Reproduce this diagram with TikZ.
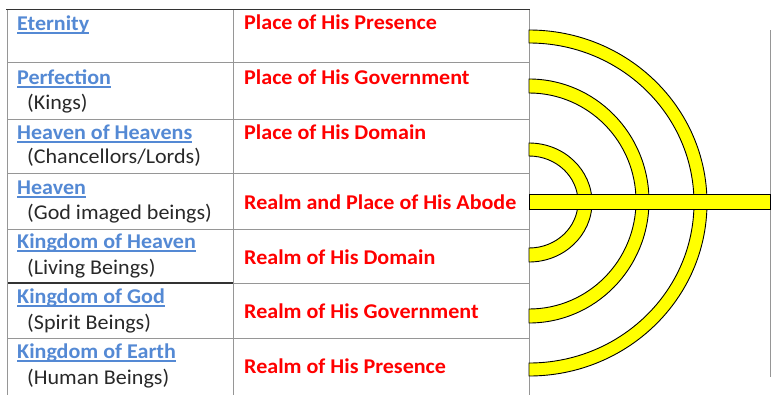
\documentclass[tikz,border=0pt]{standalone}
\usepackage{fontspec}
\setmainfont[FakeStretch=1.05]{Carlito}
\definecolor{linkblue}{RGB}{84,137,212}
\definecolor{realmred}{RGB}{255,0,0}
\definecolor{bodytext}{RGB}{40,40,40}
\definecolor{gridgray}{RGB}{150,150,150}
\definecolor{ringyellow}{RGB}{255,255,0}
\tikzset{
  namebox/.style={anchor=base west, inner sep=0pt, text=linkblue, font=\fontsize{21}{24}\selectfont\bfseries},
  beingbox/.style={anchor=base west, inner sep=0pt, text=bodytext, font=\fontsize{21}{24}\selectfont},
  placebox/.style={anchor=base west, inner sep=0pt, text=realmred, font=\fontsize{21}{24}\selectfont\bfseries},
  gridline/.style={draw=gridgray, line width=1pt},
  darkline/.style={draw=black!80, line width=1.6pt},
  ring/.style={fill=ringyellow, draw=black, line width=0.9pt},
}
\newcommand{\ul}[1]{\setbox0\hbox{#1}\rlap{\rule[-3.6pt]{\wd0}{1.2pt}}\box0}
\begin{document}
\begin{tikzpicture}[x=1pt,y=-1pt]
\useasboundingbox (0,0) rectangle (771,394);
% table grid
\draw[gridline] (7,62) -- (529,62);
\draw[gridline] (7,119) -- (529,119);
\draw[gridline] (7,173) -- (529,173);
\draw[gridline] (7,229) -- (529,229);
\draw[gridline] (7,338) -- (529,338);
\draw[darkline] (7,283) -- (233,283);
\draw[gridline] (233,283) -- (529,283);
\draw[gridline] (7,10) -- (7,400);
\draw[gridline] (233,10) -- (233,400);
\draw[gridline] (529,10) -- (529,400);
\draw[darkline] (6,9.5) -- (530,9.5);
% right line
\draw[gridline] (770,30) -- (770,377);
% rings
\path[ring] (529,30) arc[start angle=-90, end angle=90, x radius=178, y radius=173]
  -- (529,363) arc[start angle=90, end angle=-90, x radius=165, y radius=160] -- cycle;
\path[ring] (529,79) arc[start angle=-90, end angle=90, x radius=120, y radius=122]
  -- (529,309) arc[start angle=90, end angle=-90, x radius=107, y radius=108] -- cycle;
\path[ring] (529,143) arc[start angle=-90, end angle=90, x radius=63, y radius=59.5]
  -- (529,248) arc[start angle=90, end angle=-90, x radius=49, y radius=46] -- cycle;
\path[ring] (529,194) rectangle (770,209);
% left column
\node[namebox] (n1) at (17,30) {\ul{Eternity}};
\node[namebox] (n2) at (17,84) {\ul{Perfection}};
\node[beingbox] (b2) at (27,109) {(Kings)};
\node[namebox] (n3) at (17,139) {\ul{Heaven of Heavens}};
\node[beingbox] (b3) at (27,163) {(Chancellors/Lords)};
\node[namebox] (n4) at (17,194) {\ul{Heaven}};
\node[beingbox] (b4) at (27,219) {(God imaged beings)};
\node[namebox] (n5) at (17,248) {\ul{Kingdom of Heaven}};
\node[beingbox] (b5) at (27,274) {(Living Beings)};
\node[namebox] (n6) at (17,303) {\ul{Kingdom of God}};
\node[beingbox] (b6) at (27,329) {(Spirit Beings)};
\node[namebox] (n7) at (17,358) {\ul{Kingdom of Earth}};
\node[beingbox] (b7) at (27,384) {(Human Beings)};
% right column
\node[placebox] (p1) at (244,29) {Place of His Presence};
\node[placebox] (p2) at (244,84) {Place of His Government};
\node[placebox] (p3) at (244,139) {Place of His Domain};
\node[placebox] (p4) at (244,209) {Realm and Place of His Abode};
\node[placebox] (p5) at (244,264) {Realm of His Domain};
\node[placebox] (p6) at (244,318) {Realm of His Government};
\node[placebox] (p7) at (244,373) {Realm of His Presence};
\end{tikzpicture}
\end{document}
